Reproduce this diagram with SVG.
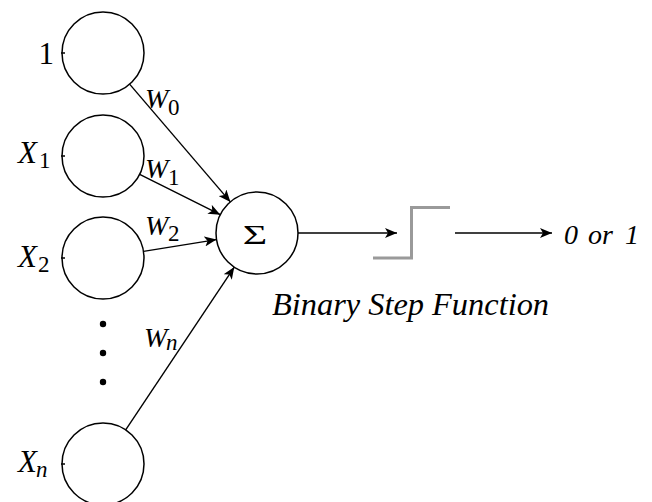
<svg xmlns="http://www.w3.org/2000/svg" width="652" height="502" viewBox="0 0 652 502">
  <style>
    .node { fill: #fff; stroke: #000; stroke-width: 1.5; }
    .tick { stroke: #000; stroke-width: 1.5; }
    .edge { stroke: #000; stroke-width: 1.4; fill: none; }
    .step { stroke: #9a9a9a; stroke-width: 3; fill: none; }
    .lbl { font-size: 31px; }
    .x { font-size: 31px; font-style: italic; }
    .w { font-size: 28px; font-style: italic; }
    .sub { font-size: 23px; font-style: normal; }
    .subi { font-size: 23px; font-style: italic; }
    .it { font-style: italic; }
  </style>
  <defs>
    <marker id="arrow" viewBox="0 0 12 10" refX="12" refY="5" markerWidth="12" markerHeight="10" markerUnits="userSpaceOnUse" orient="auto">
      <path d="M0,0 L12,5 L0,10 L3,5 Z" fill="#000"/>
    </marker>
  </defs>

  <g font-family="'Liberation Serif', 'DejaVu Serif', serif" fill="#000">
  <!-- input neurons -->
  <g id="input-bias">
    <circle class="node" cx="103" cy="53" r="41"/>
    <line class="tick" x1="61" y1="53" x2="65" y2="53"/>
    <text class="lbl" x="38.5" y="63.5">1</text>
  </g>
  <g id="input-x1">
    <circle class="node" cx="103" cy="156" r="41"/>
    <line class="tick" x1="61" y1="156" x2="65" y2="156"/>
    <text class="x" x="18" y="163">X<tspan class="sub" x="39" dy="5">1</tspan></text>
  </g>
  <g id="input-x2">
    <circle class="node" cx="103" cy="258" r="41"/>
    <line class="tick" x1="61" y1="258" x2="65" y2="258"/>
    <text class="x" x="18" y="266.5">X<tspan class="sub" x="38" dy="5">2</tspan></text>
  </g>
  <g id="ellipsis">
    <circle cx="103" cy="324" r="3.2" fill="#000"/>
    <circle cx="103" cy="353" r="3.2" fill="#000"/>
    <circle cx="103" cy="382" r="3.2" fill="#000"/>
  </g>
  <g id="input-xn">
    <circle class="node" cx="103" cy="464" r="41"/>
    <line class="tick" x1="61" y1="464" x2="65" y2="464"/>
    <text class="x" x="18" y="472">X<tspan class="subi" x="36" dy="5">n</tspan></text>
  </g>

  <!-- summation node -->
  <g id="sum">
    <circle class="node" cx="257" cy="233" r="41"/>
    <text transform="translate(255 244) scale(1.5 1)" x="0" y="0" font-size="28" text-anchor="middle">Σ</text>
  </g>

  <!-- step activation -->
  <g id="step">
    <polyline class="step" points="373,258 411.5,258 411.5,207.5 450,207.5"/>
    <text class="it" x="410.5" y="315" font-size="32.4" text-anchor="middle">Binary Step Function</text>
  </g>

  <g id="output">
    <text class="it" y="244" font-size="28"><tspan x="564">0</tspan><tspan x="588">or</tspan><tspan x="625">1</tspan></text>
  </g>

  <!-- connectors -->
  <g id="connectors">
    <line class="edge" x1="129.6" y1="84.1" x2="230.4" y2="201.9" marker-end="url(#arrow)"/>
    <line class="edge" x1="139.7" y1="174.3" x2="220.3" y2="214.7" marker-end="url(#arrow)"/>
    <line class="edge" x1="143.5" y1="251.4" x2="216.5" y2="239.6" marker-end="url(#arrow)"/>
    <line class="edge" x1="125.7" y1="429.9" x2="234.3" y2="267.1" marker-end="url(#arrow)"/>
    <line class="edge" x1="298" y1="233" x2="397" y2="233" marker-end="url(#arrow)"/>
    <line class="edge" x1="455" y1="233" x2="552" y2="233" marker-end="url(#arrow)"/>
    <text class="w" x="145" y="108">W<tspan class="sub" x="168" dy="7">0</tspan></text>
    <text class="w" x="145" y="178">W<tspan class="sub" x="168" dy="7">1</tspan></text>
    <text class="w" x="145" y="235">W<tspan class="sub" x="168" dy="6">2</tspan></text>
    <text class="w" x="144" y="347">W<tspan class="subi" x="166" dy="3">n</tspan></text>
  </g>
  </g>
</svg>
